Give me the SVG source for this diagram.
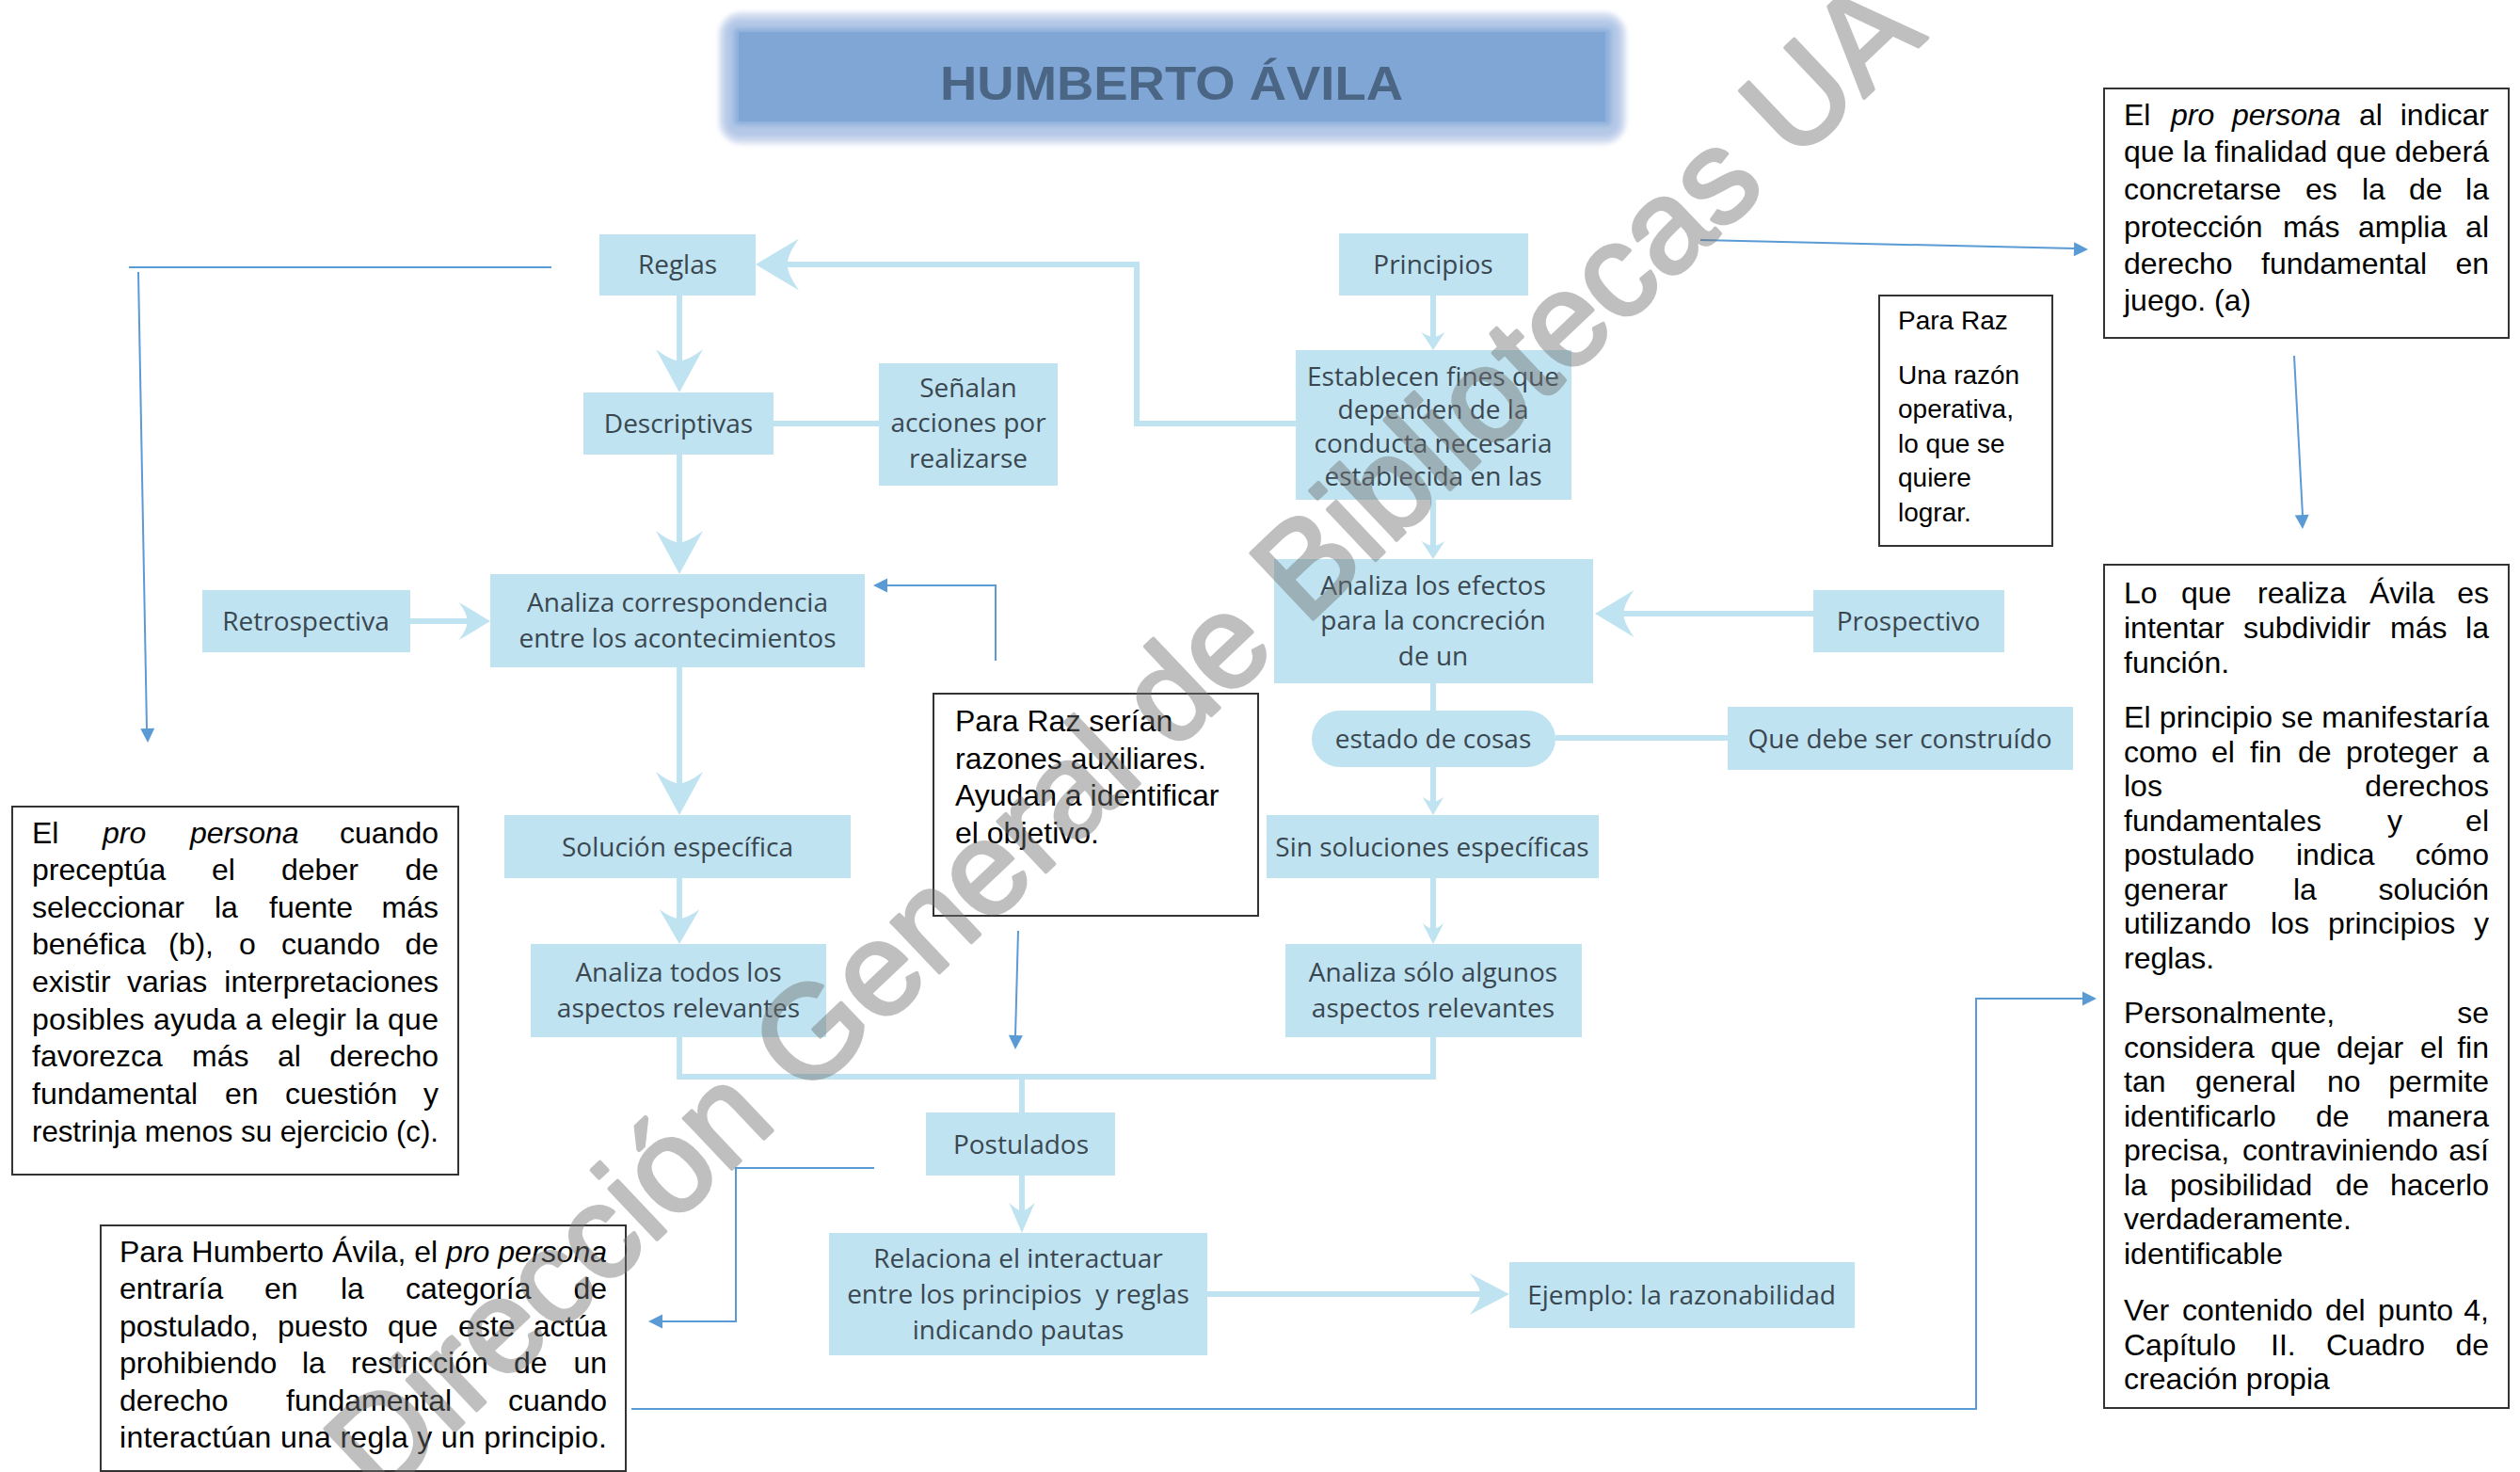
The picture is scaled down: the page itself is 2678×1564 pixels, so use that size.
<svg xmlns="http://www.w3.org/2000/svg" width="2678" height="1564" viewBox="0 0 2678 1564">
<style>
  .nd { fill:#bfe3f0; }
  .nt { font-family:"Open Sans","Liberation Sans",sans-serif; font-size:28px; fill:#3a4750; text-anchor:middle; }
  .cn { fill:none; stroke:#bfe3f0; stroke-width:6; }
  .ah { fill:#bfe3f0; }
  .bl { fill:none; stroke:#5b9bd5; stroke-width:2; }
  .bh { fill:#5b9bd5; }
  .tb { fill:#ffffff; stroke:#333333; stroke-width:2; }
  .tt { font-family:"Liberation Sans",Arial,sans-serif; font-size:32px; fill:#000000; }
  .sm { font-size:28px; }
  .e { text-anchor:end; }
  .i { font-style:italic; }
</style>
<defs>
  <path id="ahead" d="M0 0 L-46 -25 Q-33 -8 -34 0 Q-33 8 -46 25 Z"/>
  <path id="bhead" d="M0 0 L-15 -7.5 L-15 7.5 Z"/>
  <filter id="soft" x="-5%" y="-20%" width="110%" height="140%">
    <feGaussianBlur stdDeviation="2.5"/>
  </filter>
</defs>

<rect width="2678" height="1564" fill="#ffffff"/>

<!-- title banner with its soft frame -->
<g id="title">
  <rect x="764" y="13" width="964" height="140" rx="24" fill="#d3ddf0" filter="url(#soft)"/>
  <rect x="770" y="20" width="952" height="126" rx="16" fill="#b4c8e7" filter="url(#soft)"/>
  <rect x="780" y="30" width="932" height="103" rx="4" fill="#8eb0dc" filter="url(#soft)"/>
  <rect x="785" y="34" width="921" height="95" fill="#7fa6d5"/>
  <text x="1245" y="106" text-anchor="middle" textLength="492" lengthAdjust="spacingAndGlyphs" font-family="'Liberation Sans',Arial,sans-serif" font-weight="bold" font-size="50" fill="#4b6584">HUMBERTO ÁVILA</text>
</g>

<!-- flow connectors (light) and annotation connectors (blue) -->
<g id="connectors">
  <path class="cn" d="M722 314 V410"/>
  <path class="cn" d="M822 450 H934"/>
  <path class="cn" d="M722 483 V600"/>
  <path class="cn" d="M436 660 H515"/>
  <path class="cn" d="M722 709 V856"/>
  <path class="cn" d="M722 933 V995"/>
  <path class="cn" d="M722 1102 V1144 H1523 V1102"/>
  <path class="cn" d="M1086 1144 V1182"/>
  <path class="cn" d="M1086 1249 V1300"/>
  <path class="cn" d="M1283 1375 H1595"/>
  <path class="cn" d="M1523 314 V366"/>
  <path class="cn" d="M1377 450 H1208 V281 H812"/>
  <path class="cn" d="M1523 531 V588"/>
  <path class="cn" d="M1927 652 H1705"/>
  <path class="cn" d="M1523 726 V755"/>
  <path class="cn" d="M1653 784 H1836"/>
  <path class="cn" d="M1523 815 V860"/>
  <path class="cn" d="M1523 933 V997"/>

  <use href="#ahead" class="ah" transform="translate(722 417) rotate(90)"/>
  <use href="#ahead" class="ah" transform="translate(722 610) rotate(90)"/>
  <use href="#ahead" class="ah" transform="translate(521 660) scale(0.72 0.8)"/>
  <use href="#ahead" class="ah" transform="translate(722 866) rotate(90)"/>
  <use href="#ahead" class="ah" transform="translate(722 1003) rotate(90) scale(0.8 0.85)"/>
  <use href="#ahead" class="ah" transform="translate(1086 1310) rotate(90) scale(0.7 0.55)"/>
  <use href="#ahead" class="ah" transform="translate(1604 1375) scale(0.92 0.88)"/>
  <use href="#ahead" class="ah" transform="translate(1523 372) rotate(90) scale(0.42 0.5)"/>
  <use href="#ahead" class="ah" transform="translate(803 281) rotate(180) scale(1 1.1)"/>
  <use href="#ahead" class="ah" transform="translate(1523 594) rotate(90) scale(0.42 0.5)"/>
  <use href="#ahead" class="ah" transform="translate(1695 652) rotate(180) scale(0.9 1)"/>
  <use href="#ahead" class="ah" transform="translate(1523 866) rotate(90) scale(0.42 0.45)"/>
  <use href="#ahead" class="ah" transform="translate(1523 1003) rotate(90) scale(0.48 0.45)"/>

  <path class="bl" d="M137 284 H586"/>
  <path class="bl" d="M147 289 L156 775"/>
  <use href="#bhead" class="bh" transform="translate(157 789) rotate(89)"/>
  <path class="bl" d="M1807 255 L2205 264"/>
  <use href="#bhead" class="bh" transform="translate(2219 265) rotate(1.3)"/>
  <path class="bl" d="M2438 378 L2447 548"/>
  <use href="#bhead" class="bh" transform="translate(2447 562) rotate(87)"/>
  <path class="bl" d="M1058 702 V622 H942"/>
  <use href="#bhead" class="bh" transform="translate(928 622) rotate(180)"/>
  <path class="bl" d="M1082 989 L1079 1101"/>
  <use href="#bhead" class="bh" transform="translate(1079 1115) rotate(91.5)"/>
  <path class="bl" d="M929 1241 H782 V1404 H703"/>
  <use href="#bhead" class="bh" transform="translate(689 1404) rotate(180)"/>
  <path class="bl" stroke-width="3" d="M671 1497 H2100 V1061 H2214"/>
  <use href="#bhead" class="bh" transform="translate(2228 1061)"/>
</g>

<!-- flow nodes -->
<g id="n-reglas"><rect class="nd" x="637" y="249" width="166" height="65"/><text class="nt" x="720" y="291">Reglas</text></g>
<g id="n-principios"><rect class="nd" x="1423" y="248" width="201" height="66"/><text class="nt" x="1523" y="291">Principios</text></g>
<g id="n-descriptivas"><rect class="nd" x="620" y="417" width="202" height="66"/><text class="nt" x="721" y="460">Descriptivas</text></g>
<g id="n-senalan"><rect class="nd" x="934" y="386" width="190" height="130"/>
  <text class="nt" x="1029" y="422">Señalan</text><text class="nt" x="1029" y="459">acciones por</text><text class="nt" x="1029" y="497">realizarse</text></g>
<g id="n-establecen"><rect class="nd" x="1377" y="372" width="293" height="159"/>
  <text class="nt" x="1523" y="410">Establecen fines que</text><text class="nt" x="1523" y="445">dependen de la</text><text class="nt" x="1523" y="481">conducta necesaria</text><text class="nt" x="1523" y="516">establecida en las</text></g>
<g id="n-retrospectiva"><rect class="nd" x="215" y="627" width="221" height="66"/><text class="nt" x="325" y="670">Retrospectiva</text></g>
<g id="n-analiza-correspondencia"><rect class="nd" x="521" y="610" width="398" height="99"/>
  <text class="nt" x="720" y="650">Analiza correspondencia</text><text class="nt" x="720" y="688">entre los acontecimientos</text></g>
<g id="n-analiza-efectos"><rect class="nd" x="1354" y="594" width="339" height="132"/>
  <text class="nt" x="1523" y="632">Analiza los efectos</text><text class="nt" x="1523" y="669">para la concreción</text><text class="nt" x="1523" y="707">de un</text></g>
<g id="n-prospectivo"><rect class="nd" x="1927" y="627" width="203" height="66"/><text class="nt" x="2028" y="670">Prospectivo</text></g>
<g id="n-estado"><rect class="nd" x="1394" y="755" width="259" height="60" rx="30"/><text class="nt" x="1523" y="795">estado de cosas</text></g>
<g id="n-que-debe"><rect class="nd" x="1836" y="751" width="367" height="67"/><text class="nt" x="2019" y="795">Que debe ser construído</text></g>
<g id="n-solucion"><rect class="nd" x="536" y="866" width="368" height="67"/><text class="nt" x="720" y="910">Solución específica</text></g>
<g id="n-sin-soluciones"><rect class="nd" x="1346" y="866" width="353" height="67"/><text class="nt" x="1522" y="910">Sin soluciones específicas</text></g>
<g id="n-analiza-todos"><rect class="nd" x="564" y="1003" width="314" height="99"/>
  <text class="nt" x="721" y="1043">Analiza todos los</text><text class="nt" x="721" y="1081">aspectos relevantes</text></g>
<g id="n-analiza-solo"><rect class="nd" x="1366" y="1003" width="315" height="99"/>
  <text class="nt" x="1523" y="1043">Analiza sólo algunos</text><text class="nt" x="1523" y="1081">aspectos relevantes</text></g>
<g id="n-postulados"><rect class="nd" x="984" y="1182" width="201" height="67"/><text class="nt" x="1085" y="1226">Postulados</text></g>
<g id="n-relaciona"><rect class="nd" x="881" y="1310" width="402" height="130"/>
  <text class="nt" x="1082" y="1347">Relaciona el interactuar</text><text class="nt" x="1082" y="1385">entre los principios&#160; y reglas</text><text class="nt" x="1082" y="1423">indicando pautas</text></g>
<g id="n-ejemplo"><rect class="nd" x="1604" y="1341" width="367" height="70"/><text class="nt" x="1787" y="1386">Ejemplo: la razonabilidad</text></g>

<!-- annotation boxes -->
<g id="note-finalidad">
  <rect class="tb" x="2236" y="94" width="430" height="265"/>
  <text class="tt" y="133"><tspan x="2257">El</tspan><tspan class="i" x="2307">pro</tspan><tspan class="i" x="2372">persona</tspan><tspan x="2507">al</tspan></text><text class="tt e" x="2645" y="133">indicar</text>
  <text class="tt" x="2257" y="172" textLength="388" lengthAdjust="spacing">que la finalidad que deberá</text>
  <text class="tt" y="212"><tspan x="2257">concretarse</tspan><tspan x="2450">es</tspan><tspan x="2510">la</tspan><tspan x="2560">de</tspan></text><text class="tt e" x="2645" y="212">la</text>
  <text class="tt" y="252"><tspan x="2257">protección</tspan><tspan x="2426">más</tspan><tspan x="2506">amplia</tspan></text><text class="tt e" x="2645" y="252">al</text>
  <text class="tt" y="291"><tspan x="2257">derecho</tspan><tspan x="2403">fundamental</tspan></text><text class="tt e" x="2645" y="291">en</text>
  <text class="tt" x="2257" y="330">juego. (a)</text>
</g>

<g id="note-raz-operativa">
  <rect class="tb" x="1997" y="314" width="184" height="266"/>
  <text class="tt sm" x="2017" y="350">Para Raz</text>
  <text class="tt sm" x="2017" y="408">Una razón</text>
  <text class="tt sm" x="2017" y="444">operativa,</text>
  <text class="tt sm" x="2017" y="481">lo que se</text>
  <text class="tt sm" x="2017" y="517">quiere</text>
  <text class="tt sm" x="2017" y="554">lograr.</text>
</g>

<g id="note-raz-auxiliares">
  <rect class="tb" x="992" y="737" width="345" height="236"/>
  <text class="tt" x="1015" y="777">Para Raz serían</text>
  <text class="tt" x="1015" y="817">razones auxiliares.</text>
  <text class="tt" x="1015" y="856">Ayudan a identificar</text>
  <text class="tt" x="1015" y="896">el objetivo.</text>
</g>

<g id="note-fuente">
  <rect class="tb" x="13" y="857" width="474" height="391"/>
  <text class="tt" y="896"><tspan x="34">El</tspan><tspan class="i" x="109">pro</tspan><tspan class="i" x="202">persona</tspan></text><text class="tt e" x="466" y="896">cuando</text>
  <text class="tt" y="935"><tspan x="34">preceptúa</tspan><tspan x="225">el</tspan><tspan x="299">deber</tspan></text><text class="tt e" x="466" y="935">de</text>
  <text class="tt" y="975"><tspan x="34">seleccionar</tspan><tspan x="228">la</tspan><tspan x="286">fuente</tspan></text><text class="tt e" x="466" y="975">más</text>
  <text class="tt" y="1014"><tspan x="34">benéfica</tspan><tspan x="179">(b),</tspan><tspan x="254">o</tspan><tspan x="299">cuando</tspan></text><text class="tt e" x="466" y="1014">de</text>
  <text class="tt" y="1054"><tspan x="34">existir</tspan><tspan x="135">varias</tspan></text><text class="tt e" x="466" y="1054">interpretaciones</text>
  <text class="tt" x="34" y="1094" textLength="432" lengthAdjust="spacing">posibles ayuda a elegir la que</text>
  <text class="tt" y="1133"><tspan x="34">favorezca</tspan><tspan x="204">más</tspan><tspan x="295">al</tspan></text><text class="tt e" x="466" y="1133">derecho</text>
  <text class="tt" y="1173"><tspan x="34">fundamental</tspan><tspan x="239">en</tspan><tspan x="303">cuestión</tspan></text><text class="tt e" x="466" y="1173">y</text>
  <text class="tt" x="34" y="1213" textLength="432" lengthAdjust="spacingAndGlyphs">restrinja menos su ejercicio (c).</text>
</g>

<g id="note-postulado">
  <rect class="tb" x="107" y="1302" width="558" height="261"/>
  <text class="tt" x="127" y="1341" textLength="518" lengthAdjust="spacing">Para Humberto Ávila, el <tspan class="i">pro persona</tspan></text>
  <text class="tt" y="1380"><tspan x="127">entraría</tspan><tspan x="281">en</tspan><tspan x="362">la</tspan><tspan x="431">categoría</tspan></text><text class="tt e" x="645" y="1380">de</text>
  <text class="tt" y="1420"><tspan x="127">postulado,</tspan><tspan x="295">puesto</tspan><tspan x="412">que</tspan><tspan x="487">este</tspan></text><text class="tt e" x="645" y="1420">actúa</text>
  <text class="tt" y="1459"><tspan x="127">prohibiendo</tspan><tspan x="321">la</tspan><tspan x="373">restricción</tspan><tspan x="546">de</tspan></text><text class="tt e" x="645" y="1459">un</text>
  <text class="tt" y="1499"><tspan x="127">derecho</tspan><tspan x="304">fundamental</tspan></text><text class="tt e" x="645" y="1499">cuando</text>
  <text class="tt" x="127" y="1538" textLength="518" lengthAdjust="spacing">interactúan una regla y un principio.</text>
</g>

<g id="note-funcion">
  <rect class="tb" x="2236" y="600" width="430" height="896"/>
  <text class="tt" y="641"><tspan x="2257">Lo</tspan><tspan x="2318">que</tspan><tspan x="2399">realiza</tspan><tspan x="2518">Ávila</tspan></text><text class="tt e" x="2645" y="641">es</text>
  <text class="tt" y="678"><tspan x="2257">intentar</tspan><tspan x="2384">subdividir</tspan><tspan x="2540">más</tspan></text><text class="tt e" x="2645" y="678">la</text>
  <text class="tt" x="2257" y="715">función.</text>
  <text class="tt" x="2257" y="773" textLength="388" lengthAdjust="spacing">El principio se manifestaría</text>
  <text class="tt" y="810"><tspan x="2257">como</tspan><tspan x="2350">el</tspan><tspan x="2391">fin</tspan><tspan x="2442">de</tspan><tspan x="2493">proteger</tspan></text><text class="tt e" x="2645" y="810">a</text>
  <text class="tt" x="2257" y="846">los</text><text class="tt e" x="2645" y="846">derechos</text>
  <text class="tt" y="883"><tspan x="2257">fundamentales</tspan><tspan x="2537">y</tspan></text><text class="tt e" x="2645" y="883">el</text>
  <text class="tt" y="919"><tspan x="2257">postulado</tspan><tspan x="2440">indica</tspan></text><text class="tt e" x="2645" y="919">cómo</text>
  <text class="tt" y="956"><tspan x="2257">generar</tspan><tspan x="2437">la</tspan></text><text class="tt e" x="2645" y="956">solución</text>
  <text class="tt" y="992"><tspan x="2257">utilizando</tspan><tspan x="2413">los</tspan><tspan x="2474">principios</tspan></text><text class="tt e" x="2645" y="992">y</text>
  <text class="tt" x="2257" y="1029">reglas.</text>
  <text class="tt" x="2257" y="1087">Personalmente,</text><text class="tt e" x="2645" y="1087">se</text>
  <text class="tt" y="1124"><tspan x="2257">considera</tspan><tspan x="2413">que</tspan><tspan x="2483">dejar</tspan><tspan x="2572">el</tspan></text><text class="tt e" x="2645" y="1124">fin</text>
  <text class="tt" y="1160"><tspan x="2257">tan</tspan><tspan x="2333">general</tspan><tspan x="2473">no</tspan></text><text class="tt e" x="2645" y="1160">permite</text>
  <text class="tt" y="1197"><tspan x="2257">identificarlo</tspan><tspan x="2461">de</tspan></text><text class="tt e" x="2645" y="1197">manera</text>
  <text class="tt" y="1233"><tspan x="2257">precisa,</tspan><tspan x="2383">contraviniendo</tspan></text><text class="tt e" x="2645" y="1233">así</text>
  <text class="tt" y="1270"><tspan x="2257">la</tspan><tspan x="2306">posibilidad</tspan><tspan x="2482">de</tspan></text><text class="tt e" x="2645" y="1270">hacerlo</text>
  <text class="tt" x="2257" y="1306">verdaderamente.</text>
  <text class="tt" x="2257" y="1343">identificable</text>
  <text class="tt" y="1403"><tspan x="2257">Ver</tspan><tspan x="2319">contenido</tspan><tspan x="2471">del</tspan><tspan x="2527">punto</tspan></text><text class="tt e" x="2645" y="1403">4,</text>
  <text class="tt" y="1440"><tspan x="2257">Capítulo</tspan><tspan x="2413">II.</tspan><tspan x="2472">Cuadro</tspan></text><text class="tt e" x="2645" y="1440">de</text>
  <text class="tt" x="2257" y="1476">creación propia</text>
</g>

<!-- watermark across the sheet -->
<g id="watermark" opacity="0.45">
  <text x="0" y="0" transform="translate(1226 818) rotate(-43.4)" text-anchor="middle" font-family="'Liberation Sans',Arial,sans-serif" font-size="140" fill="#737373" stroke="#737373" stroke-width="4" stroke-linejoin="round">Dirección General de Bibliotecas UA</text>
</g>
</svg>
